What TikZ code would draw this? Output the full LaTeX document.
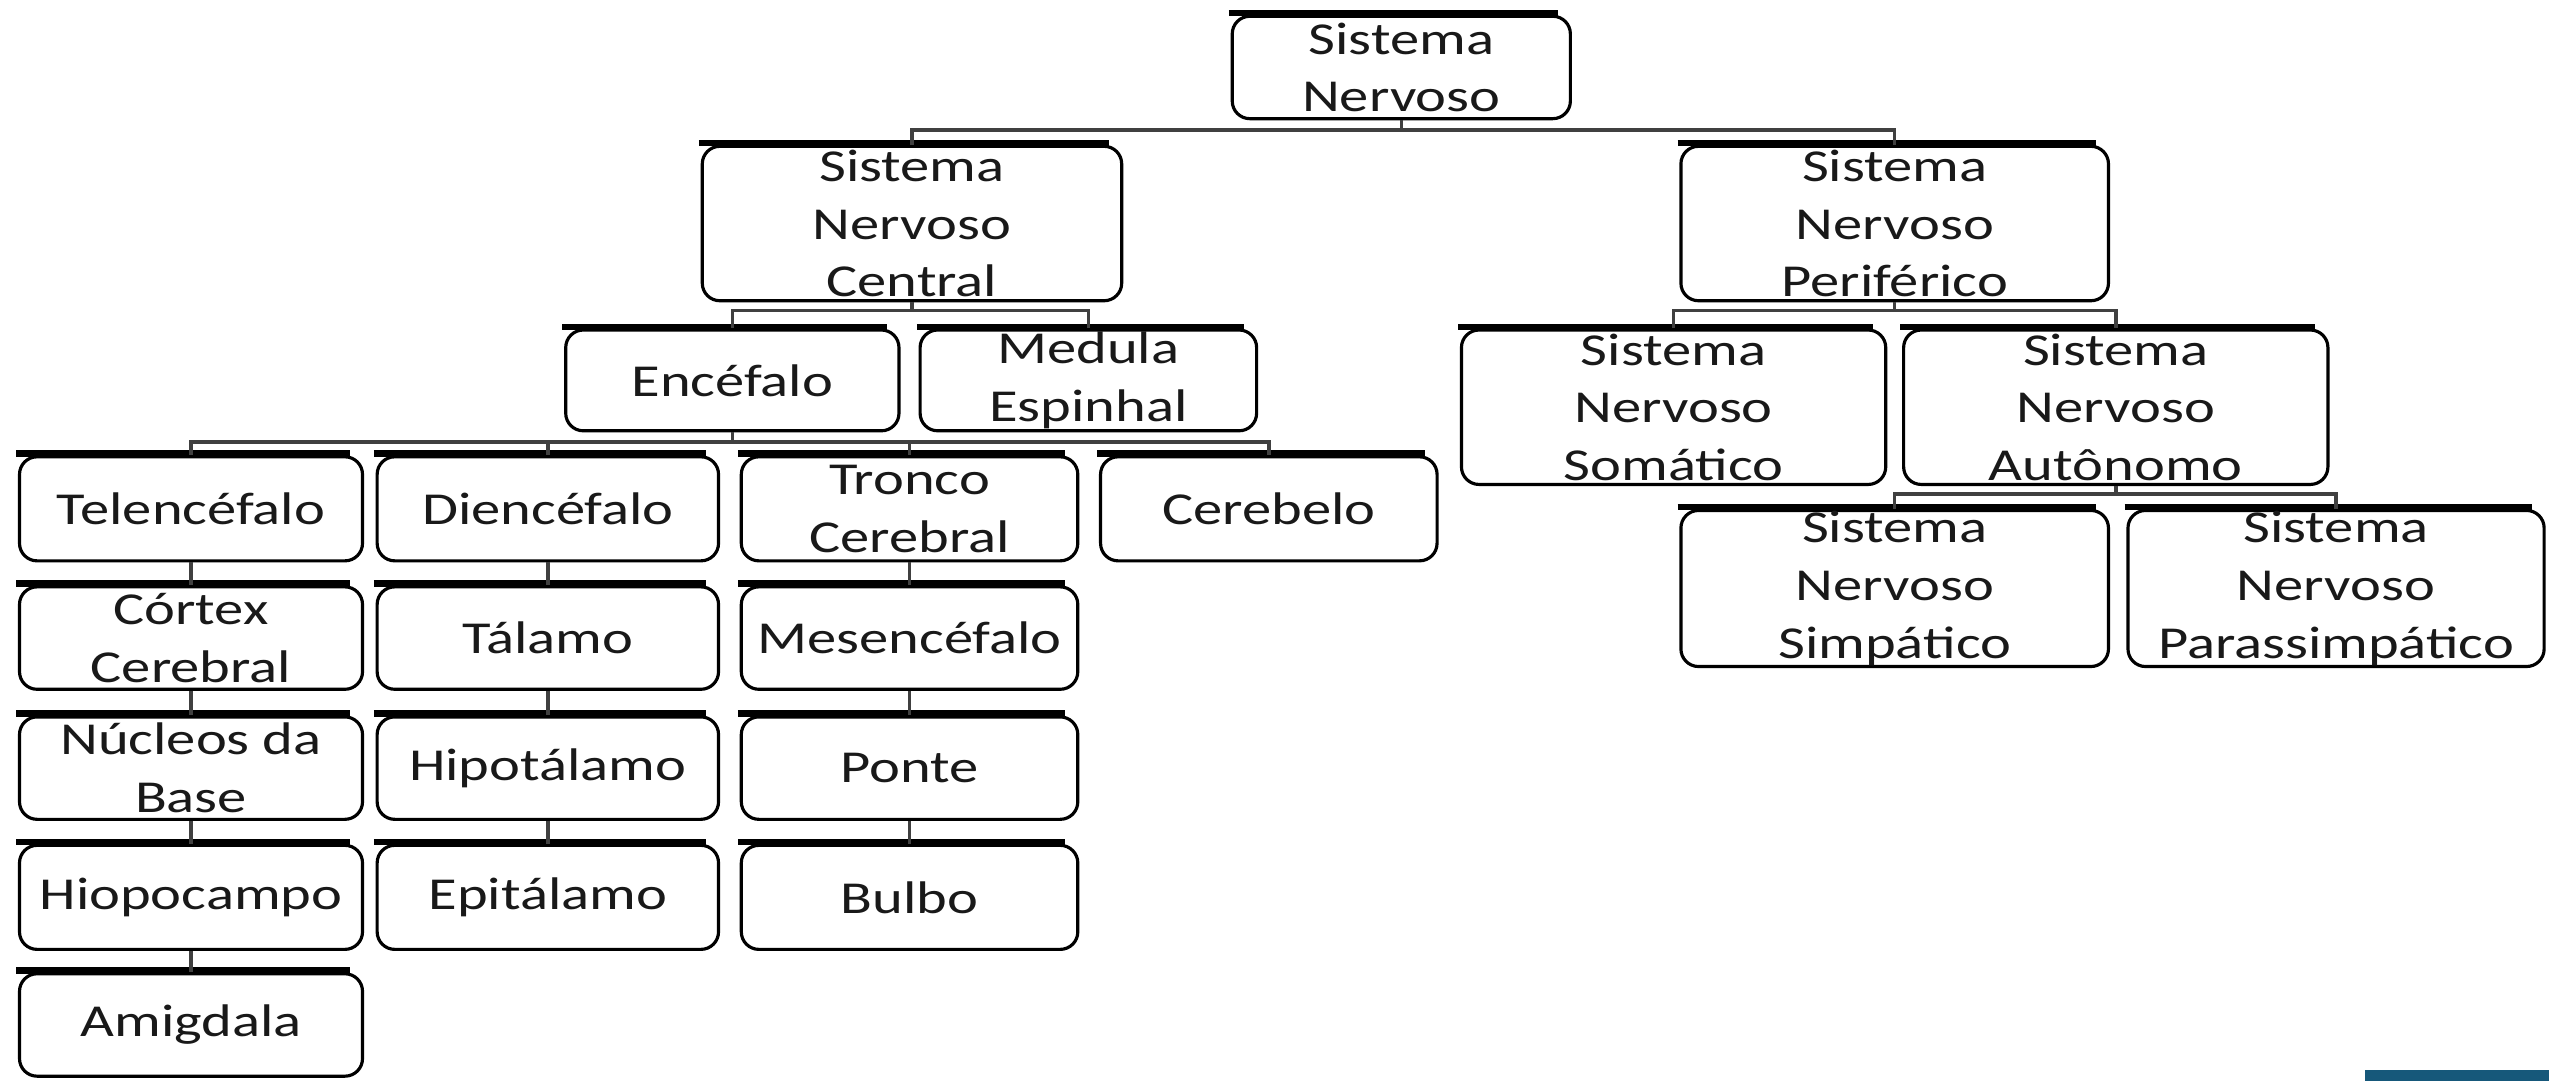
\documentclass[tikz,border=0pt]{standalone}
\usepackage{fontspec}
\newfontfamily\boxfont[FakeStretch=1.28]{Carlito}
\definecolor{logoblue}{RGB}{22,88,122}
\tikzset{
  box/.style={draw=black, line width=0.9pt, rounded corners=5pt, fill=white, align=center,
    inner sep=0pt, font=\boxfont\fontsize{13}{16.4}\selectfont, text=black!90},
  conn/.style={draw=black!75, line width=1pt},
  topband/.style={line width=1.8pt, line cap=butt}
}
\newcommand\mybox[6]{\node[box, minimum width={(#4-#2)*0.016257cm}, minimum height={(#5-#3)*0.016257cm}] (#1) at ({(#2+#4)/2},{(#3+#5)/2}) {#6};}
\begin{document}
\begin{tikzpicture}[x=0.016257cm, y=-0.016257cm]
\fill[white] (0,0) rectangle (1568,665);
\useasboundingbox (0,0) rectangle (1568,665);
% nodes
\mybox{root}{758}{10}{966}{73}{Sistema\\Nervoso}
\mybox{snc}{432}{90}{690}{185}{Sistema\\Nervoso\\Central}
\mybox{snp}{1034}{90}{1297}{185}{Sistema\\Nervoso\\Periférico}
\mybox{enc}{348}{203}{553}{265}{Encéfalo}
\mybox{med}{566}{203}{773}{265}{Medula\\Espinhal}
\mybox{som}{899}{203}{1160}{298}{Sistema\\Nervoso\\Somático}
\mybox{aut}{1171}{203}{1432}{298}{Sistema\\Nervoso\\Autônomo}
\mybox{tel}{12}{281}{223}{345}{Telencéfalo}
\mybox{die}{232}{281}{442}{345}{Diencéfalo}
\mybox{tro}{456}{281}{663}{345}{Tronco\\Cerebral}
\mybox{cer}{677}{281}{884}{345}{Cerebelo}
\mybox{cor}{12}{361}{223}{424}{Córtex\\Cerebral}
\mybox{nuc}{12}{441}{223}{504}{Núcleos da\\Base}
\mybox{hio}{12}{520}{223}{584}{Hiopocampo}
\mybox{ami}{12}{599}{223}{662}{Amigdala}
\mybox{tal}{232}{361}{442}{424}{Tálamo}
\mybox{hip}{232}{441}{442}{504}{Hipotálamo}
\mybox{epi}{232}{520}{442}{584}{Epitálamo}
\mybox{mes}{456}{361}{663}{424}{Mesencéfalo}
\mybox{pon}{456}{441}{663}{504}{Ponte}
\mybox{bul}{456}{520}{663}{584}{Bulbo}
\mybox{sim}{1034}{314}{1297}{410}{Sistema\\Nervoso\\Simpático}
\mybox{par}{1309}{314}{1565}{410}{Sistema\\Nervoso\\Parassimpático}
% top bands
\foreach \n in {root,snc,snp,enc,med,som,aut,tel,die,tro,cer,cor,nuc,hio,ami,tal,hip,epi,mes,pon,bul,sim,par}
  \draw[topband] ([xshift=-0.5pt,yshift=0.5pt]\n.north west) -- ([xshift=-4pt,yshift=0.5pt]\n.north east);
% connectors
\draw[conn] (root.south) -- ++(0,6) -| (snc.north);
\draw[conn] (root.south) -- ++(0,6) -| (snp.north);
\draw[conn] (snc.south) -- ++(0,5) -| (enc.north);
\draw[conn] (snc.south) -- ++(0,5) -| (med.north);
\draw[conn] (snp.south) -- ++(0,5) -| (som.north);
\draw[conn] (snp.south) -- ++(0,5) -| (aut.north);
\foreach \c in {tel,die,tro,cer}
  \draw[conn] (enc.south) -- ++(0,6) -| (\c.north);
\draw[conn] (aut.south) -- ++(0,5) -| (sim.north);
\draw[conn] (aut.south) -- ++(0,5) -| (par.north);
\draw[conn] (tel.south) -- (cor.north);
\draw[conn] (cor.south) -- (nuc.north);
\draw[conn] (nuc.south) -- (hio.north);
\draw[conn] (hio.south) -- (ami.north);
\draw[conn] (die.south) -- (tal.north);
\draw[conn] (tal.south) -- (hip.north);
\draw[conn] (hip.south) -- (epi.north);
\draw[conn] (tro.south) -- (mes.north);
\draw[conn] (mes.south) -- (pon.north);
\draw[conn] (pon.south) -- (bul.north);
% logo fragment
\fill[logoblue] (1455,658) rectangle (1568,665);
\end{tikzpicture}
\end{document}
